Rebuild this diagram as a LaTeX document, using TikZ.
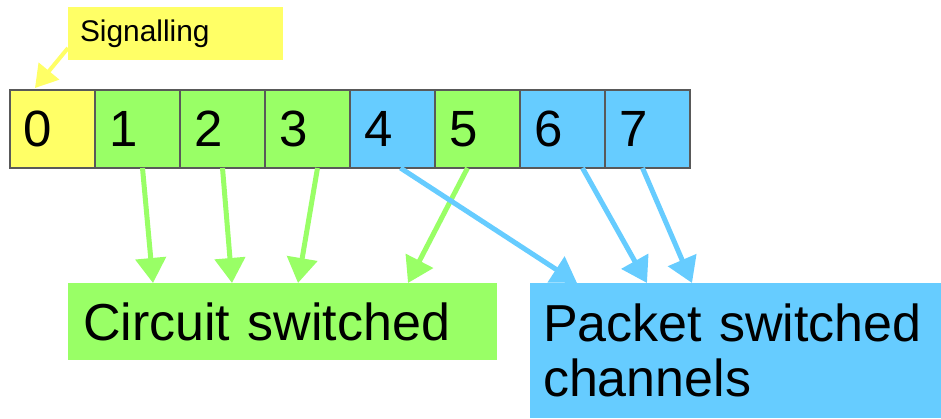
\documentclass[tikz,border=0pt]{standalone}
\usepackage{fontspec}
\setmainfont{Liberation Sans}
\usetikzlibrary{arrows.meta,calc}
\definecolor{sigyellow}{RGB}{255, 255, 102}
\definecolor{csgreen}{RGB}{153, 255, 102}
\definecolor{psblue}{RGB}{102, 204, 255}
\begin{document}
\begin{tikzpicture}[
      x=0.1mm, y=-0.1mm,
      cell/.style={draw=black!65, line width=0.3pt, minimum height=7.8mm, text width=5.7mm, inner xsep=1.4mm, inner ysep=0pt, outer sep=0pt, align=left, font=\fontsize{14.5}{16}\selectfont},
      label/.style={inner ysep=0pt, outer sep=0pt, align=left, anchor=north west},
      garrow/.style={-{Triangle[width=3mm,length=2.5mm]}, line width=0.5mm, csgreen},
      barrow/.style={-{Triangle[width=3mm,length=2.5mm]}, line width=0.5mm, psblue}
    ]
      \useasboundingbox (0,0) rectangle (941,418);

      % Timeslots
      \foreach \i/\col in {0/sigyellow, 1/csgreen, 2/csgreen, 3/csgreen, 4/psblue, 5/csgreen, 6/psblue, 7/psblue}
        \node[cell, fill=\col] (c\i) at (52.5+85*\i,129) {\i};

      % Signalling
      \node[label, fill=sigyellow, minimum width=21.5mm, minimum height=5.3mm, text width=19.1mm, inner xsep=1.2mm, font=\fontsize{8.5}{10}\selectfont] (sig) at (68,7) {Signalling};

      % Channel groups
      \node[label, fill=csgreen, minimum width=42.9mm, minimum height=7.7mm, text width=39.9mm, inner xsep=1.5mm, font=\fontsize{14.8}{15.6}\selectfont] (circ) at (68,283) {Circuit switched};
      \node[label, fill=psblue, minimum width=41.1mm, minimum height=13.5mm, text width=38.5mm, inner xsep=1.3mm, font=\fontsize{14.8}{15.6}\selectfont] (pack) at (530,283) {Packet switched\\channels};

      % Arrows
      \draw[-{Triangle[width=2.6mm,length=2.2mm]}, line width=0.4mm, sigyellow] ($(sig.south west)+(0,-12)$) -- ($(c0.north west)+(25,-2)$);
      \draw[garrow] ($(c1.south)+(5,0)$) -- ($(circ.north west)+(85,0)$);
      \draw[garrow] ($(c2.south)+(0,0)$) -- ($(circ.north west)+(164,0)$);
      \draw[garrow] ($(c3.south)+(10,0)$) -- ($(circ.north west)+(230,0)$);
      \draw[garrow] ($(c5.south)+(-10,0)$) -- ($(circ.north west)+(340,0)$);
      \draw[barrow] ($(c4.south)+(8,0)$) -- ($(pack.north west)+(47,0)$);
      \draw[barrow] ($(c6.south)+(20,0)$) -- ($(pack.north west)+(117,0)$);
      \draw[barrow] ($(c7.south)+(-5,0)$) -- ($(pack.north west)+(162,0)$);
    \end{tikzpicture}
\end{document}
